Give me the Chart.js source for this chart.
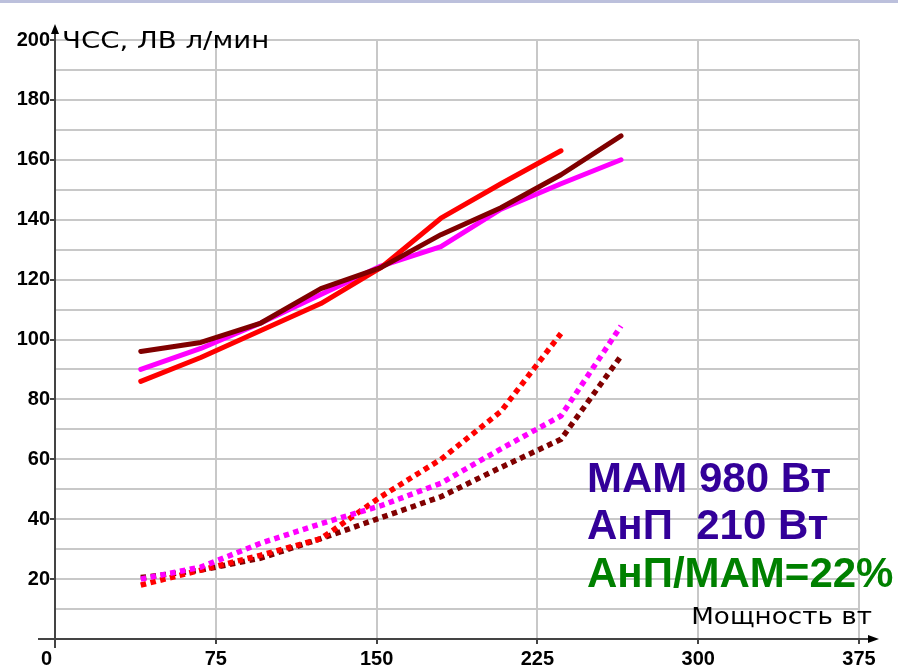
<!DOCTYPE html>
<html>
<head>
<meta charset="utf-8">
<script src="https://cdn.jsdelivr.net/npm/chart.js@4/dist/chart.umd.min.js"></script>
<style>
    html, body { margin: 0; padding: 0; background: #fff; }
    #wrap { width: 898px; height: 668px; position: relative; }
</style>
</head>
<body>
<div id="wrap"><canvas id="hr-chart" width="898" height="668"></canvas></div>
<script>
// Power steps, W
const power = [40, 68, 96, 124, 152, 180, 208, 236, 264];

// Heart rate (solid lines)
const hrRed = [86, 94, 103, 112, 124, 140.5, 152, 163];
const hrMagenta = [90, 97, 105.5, 115, 124.5, 131, 143.5, 152, 160];
const hrMaroon = [96, 99, 105.5, 117, 124, 135, 144, 155, 168];

// Ventilation (dotted lines)
const veRed = [18, 23, 28, 33.5, 47.5, 60, 76, 102];
const veMagenta = [20, 24, 32, 38.5, 44.5, 52, 63.5, 74.5, 104.5];
const veMaroon = [20.5, 23, 27, 33.5, 40.5, 47.5, 57.3, 66.7, 94.5];

// Axis ticks
const xTicks = [0, 75, 150, 225, 300, 375];
const yMax = 200;

const notes = [
    { text: 'МАМ 980 Вт', color: '#330099' },
    { text: 'АнП  210 Вт', color: '#330099' },
    { text: 'АнП/МАМ=22%', color: '#008000' }
];

const COLORS = {
    red: '#ff0000',
    magenta: '#ff00ff',
    maroon: '#800000',
    grid: '#c8c8c8',
    axis: '#444444'
};

const toPoints = (values) => values.map((v, i) => ({ x: power[i], y: v }));

function solid(label, values, color) {
    return {
        label,
        data: toPoints(values),
        borderColor: color,
        borderWidth: 5,
        borderCapStyle: 'round',
        borderJoinStyle: 'round',
        pointRadius: 0,
        tension: 0
    };
}

function dotted(label, values, color) {
    return {
        label,
        data: toPoints(values),
        borderColor: color,
        borderWidth: 5.5,
        borderDash: [5.5, 4.5],
        borderCapStyle: 'butt',
        pointRadius: 0,
        tension: 0
    };
}

// text stretched sideways, the axis captions use a wide face
function wideText(ctx, text, x, y, stretch) {
    ctx.save();
    ctx.translate(x, y);
    ctx.scale(stretch, 1);
    ctx.fillText(text, 0, 0);
    ctx.restore();
}

// Axis arrows, titles and the notes in the corner
const decorations = {
    id: 'decorations',
    beforeDraw(chart) {
        const ctx = chart.ctx;
        ctx.save();
        ctx.fillStyle = '#bcc0dc';
        ctx.fillRect(0, 0, chart.width, 3);
        ctx.restore();
    },
    afterDraw(chart) {
        const ctx = chart.ctx;
        const xs = chart.scales.x;
        const ys = chart.scales.y;
        const x0 = xs.getPixelForValue(0);
        const y0 = ys.getPixelForValue(0);
        const yTop = ys.getPixelForValue(yMax);
        const xEnd = xs.getPixelForValue(xTicks[xTicks.length - 1]);

        ctx.save();
        ctx.strokeStyle = COLORS.axis;
        ctx.fillStyle = '#000';
        ctx.lineWidth = 2;

        // y axis with arrow
        ctx.beginPath();
        ctx.moveTo(x0, y0 + 9);
        ctx.lineTo(x0, yTop - 8);
        ctx.stroke();
        ctx.beginPath();
        ctx.moveTo(x0, yTop - 16);
        ctx.lineTo(x0 - 4, yTop - 6);
        ctx.lineTo(x0 + 4, yTop - 6);
        ctx.closePath();
        ctx.fill();

        // x axis with arrow
        ctx.beginPath();
        ctx.moveTo(x0 - 17, y0);
        ctx.lineTo(xEnd + 12, y0);
        ctx.stroke();
        ctx.beginPath();
        ctx.moveTo(xEnd + 20, y0);
        ctx.lineTo(xEnd + 9, y0 - 4);
        ctx.lineTo(xEnd + 9, y0 + 4);
        ctx.closePath();
        ctx.fill();

        // axis titles
        ctx.fillStyle = '#000';
        ctx.textBaseline = 'middle';
        ctx.font = '23px "DejaVu Sans"';
        ctx.textAlign = 'left';
        wideText(ctx, 'ЧСС, ЛВ л/мин', x0 + 7, yTop + 2, 1.2);
        ctx.textAlign = 'right';
        wideText(ctx, 'Мощность вт', xEnd + 13, y0 - 21, 1.14);

        // notes
        ctx.font = 'bold 42px "Liberation Sans", Arial, sans-serif';
        ctx.textAlign = 'left';
        notes.forEach((n, i) => {
            ctx.fillStyle = n.color;
            ctx.fillText(n.text, 587, 480 + i * 47.5);
        });
        ctx.restore();
    }
};

const tickFont = { family: '"Liberation Sans", Arial, sans-serif', size: 20, weight: 'bold' };

new Chart(document.getElementById('hr-chart'), {
    type: 'line',
    data: {
        datasets: [
            solid('ЧСС 3', hrMaroon, COLORS.maroon),
            solid('ЧСС 1', hrRed, COLORS.red),
            solid('ЧСС 2', hrMagenta, COLORS.magenta),
            dotted('ЛВ 2', veMagenta, COLORS.magenta),
            dotted('ЛВ 1', veRed, COLORS.red),
            dotted('ЛВ 3', veMaroon, COLORS.maroon)
        ]
    },
    options: {
        responsive: false,
        animation: false,
        devicePixelRatio: 1,
        layout: { padding: { top: 40, right: 39, left: 0, bottom: 0 } },
        plugins: {
            legend: { display: false },
            tooltip: { enabled: false }
        },
        scales: {
            x: {
                type: 'linear',
                min: 0,
                max: xTicks[xTicks.length - 1],
                afterFit: (scale) => { scale.height = 29; },
                afterBuildTicks: (scale) => { scale.ticks = xTicks.map(v => ({ value: v })); },
                ticks: {
                    font: tickFont,
                    color: '#000',
                    padding: 3,
                    maxRotation: 0,
                    autoSkip: false,
                    callback: (v) => v === 0 ? '0   ' : String(v)
                },
                grid: {
                    color: COLORS.grid,
                    lineWidth: 2,
                    tickLength: 5,
                    tickColor: COLORS.axis
                },
                border: { color: COLORS.axis, width: 2 }
            },
            y: {
                min: 0,
                max: yMax,
                afterFit: (scale) => { scale.width = 55; },
                ticks: {
                    stepSize: 10,
                    font: tickFont,
                    color: '#000',
                    padding: 0,
                    autoSkip: false,
                    callback: (v) => (v > 0 && v % 20 === 0) ? String(v) : ''
                },
                grid: {
                    color: COLORS.grid,
                    lineWidth: 2,
                    tickLength: 5,
                    tickColor: (c) => (c.tick && c.tick.value > 0 && c.tick.value % 20 === 0) ? COLORS.axis : 'rgba(0,0,0,0)'
                },
                border: { color: COLORS.axis, width: 2 }
            }
        }
    },
    plugins: [decorations]
});
</script>
</body>
</html>
